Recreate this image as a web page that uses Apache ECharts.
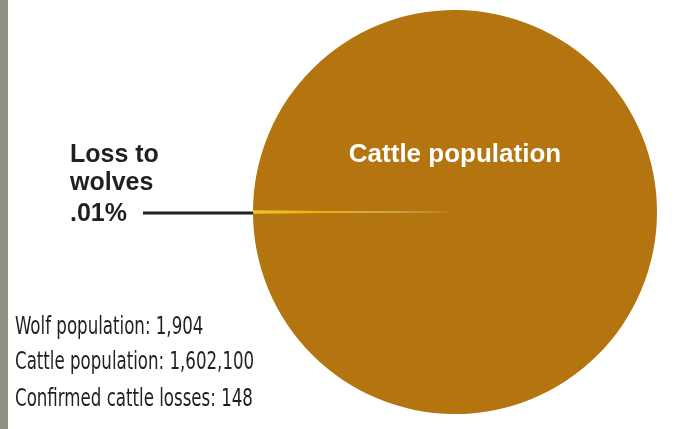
<!DOCTYPE html>
<html>
<head>
<meta charset="utf-8">
<script src="https://cdn.jsdelivr.net/npm/echarts@6/dist/echarts.min.js"></script>
<style>html,body{margin:0;padding:0;background:#fff}#c{width:696px;height:429px}</style>
</head>
<body>
<div id="c"></div>
<script>
const sliceNames = ['Loss to wolves', 'Cattle population'];
const sliceValues = [148, 1602100];
const lossLabelLines = ['Loss to', 'wolves', '.01%'];
const factLines = ['Wolf population: 1,904', 'Cattle population: 1,602,100', 'Confirmed cattle losses: 148'];

const chart = echarts.init(document.getElementById('c'), null, {renderer: 'canvas'});
const boldFont = '"Liberation Sans", Arial, sans-serif';
const narrowFont = '"Liberation Sans Narrow", "DejaVu Sans Condensed", sans-serif';

const graphics = [
  {type: 'rect', left: 0, top: 0, shape: {width: 8, height: 429}, style: {fill: '#8e9181'}, silent: true},
  {type: 'line', shape: {x1: 143, y1: 213, x2: 254, y2: 213}, style: {stroke: '#231f20', lineWidth: 3}},
  {type: 'text', x: 455, y: 155, style: {text: sliceNames[1], font: 'bold 26px ' + boldFont, fill: '#ffffff', textAlign: 'center', textVerticalAlign: 'middle'}, z: 10}
];
lossLabelLines.forEach((t, i) => {
  graphics.push({type: 'text', x: 70, y: [155, 183, 214][i], style: {text: t, font: 'bold 25px ' + boldFont, fill: '#231f20', textAlign: 'left', textVerticalAlign: 'middle'}});
});
factLines.forEach((t, i) => {
  graphics.push({type: 'text', x: 15, y: [327, 362, 399][i], scaleX: 0.74, style: {text: t, font: '25px ' + narrowFont, fill: '#231f20', textAlign: 'left', textVerticalAlign: 'middle'}});
});

chart.setOption({
  animation: false,
  backgroundColor: '#ffffff',
  series: [{
    type: 'pie',
    center: [455, 212],
    radius: [0, 202],
    startAngle: 180.4,
    clockwise: true,
    minAngle: 0.8,
    label: {show: false},
    labelLine: {show: false},
    emphasis: {disabled: true},
    itemStyle: {borderWidth: 0},
    data: sliceNames.map((n, i) => ({
      name: n,
      value: sliceValues[i],
      itemStyle: i === 0 ? {
        color: {type: 'linear', x: 0, y: 0, x2: 1, y2: 0, colorStops: [
          {offset: 0, color: '#f8c800'}, {offset: 0.8, color: '#d49a08'}, {offset: 1, color: '#b47410'}
        ]}
      } : {color: '#b47410'}
    }))
  }],
  graphic: graphics
});
</script>
</body>
</html>
